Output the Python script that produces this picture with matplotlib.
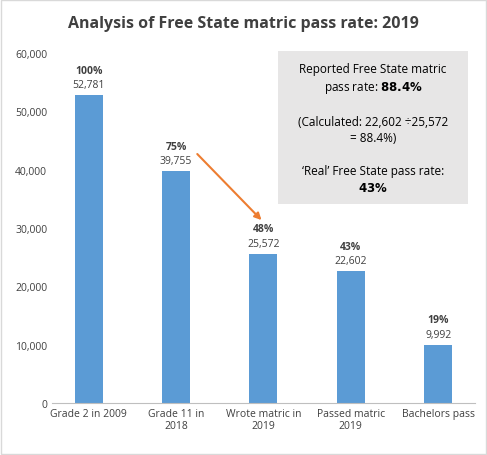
import matplotlib.pyplot as plt
from matplotlib.ticker import FuncFormatter

categories = ["Grade 2 in 2009", "Grade 11 in\n2018", "Wrote matric in\n2019", "Passed matric\n2019", "Bachelors pass"]
values = [52781, 39755, 25572, 22602, 9992]
pcts = ["100%", "75%", "48%", "43%", "19%"]

plt.rcParams['font.family'] = ['Open Sans', 'DejaVu Sans']
fig = plt.figure(figsize=(4.87, 4.56), dpi=100)
ax = fig.add_axes([0.107, 0.114, 0.868, 0.768])

x = range(len(values))
ax.bar(x, values, width=0.32, color="#5b9bd5", zorder=2)
for i, (v, p) in enumerate(zip(values, pcts)):
    ax.text(i, v + 3300, p, ha="center", va="bottom", fontsize=7.5, fontweight="bold", color="#404040")
    ax.text(i, v + 800, f"{v:,}", ha="center", va="bottom", fontsize=7.5, color="#404040")

ax.set_ylim(0, 60000)
ax.set_xlim(-0.42, 4.42)
ax.set_yticks(range(0, 60001, 10000))
ax.yaxis.set_major_formatter(FuncFormatter(lambda v, _: f"{int(v):,}"))
ax.set_xticks(list(x))
ax.set_xticklabels(categories, fontsize=7.5, color="#404040")
ax.tick_params(axis="y", labelsize=7.5, labelcolor="#404040", length=0)
ax.tick_params(axis="x", length=0)
for s in ["top", "right", "left"]:
    ax.spines[s].set_visible(False)
ax.spines["bottom"].set_color("#bfbfbf")

fig.suptitle("Analysis of Free State matric pass rate: 2019", y=0.965, fontsize=11.5,
             fontweight="bold", color="#404040")

ax.annotate("", xy=(2.0, 31000), xytext=(1.22, 43000),
            arrowprops=dict(arrowstyle="-|>", color="#ed7d31", lw=1.5))

box_text = ("Reported Free State matric\npass rate: $\\bf{88.4\\%}$\n\n"
            "(Calculated: 22,602 \u00f725,572\n= 88.4%)\n\n"
            "\u2018Real\u2019 Free State pass rate:\n$\\bf{43\\%}$")
fig.patches.append(plt.Rectangle((0.571, 0.55), 0.39, 0.335, transform=fig.transFigure,
                                 facecolor="#e7e6e6", edgecolor="none", zorder=0))
fig.text(0.766, 0.717, box_text, ha="center", va="center", fontsize=8.5,
         color="#000000", linespacing=1.35)

fig.patches.append(plt.Rectangle((0.002, 0.002), 0.996, 0.996, transform=fig.transFigure,
                                 facecolor="none", edgecolor="#d9d9d9", lw=1))
fig.savefig("out.png", dpi=100)
